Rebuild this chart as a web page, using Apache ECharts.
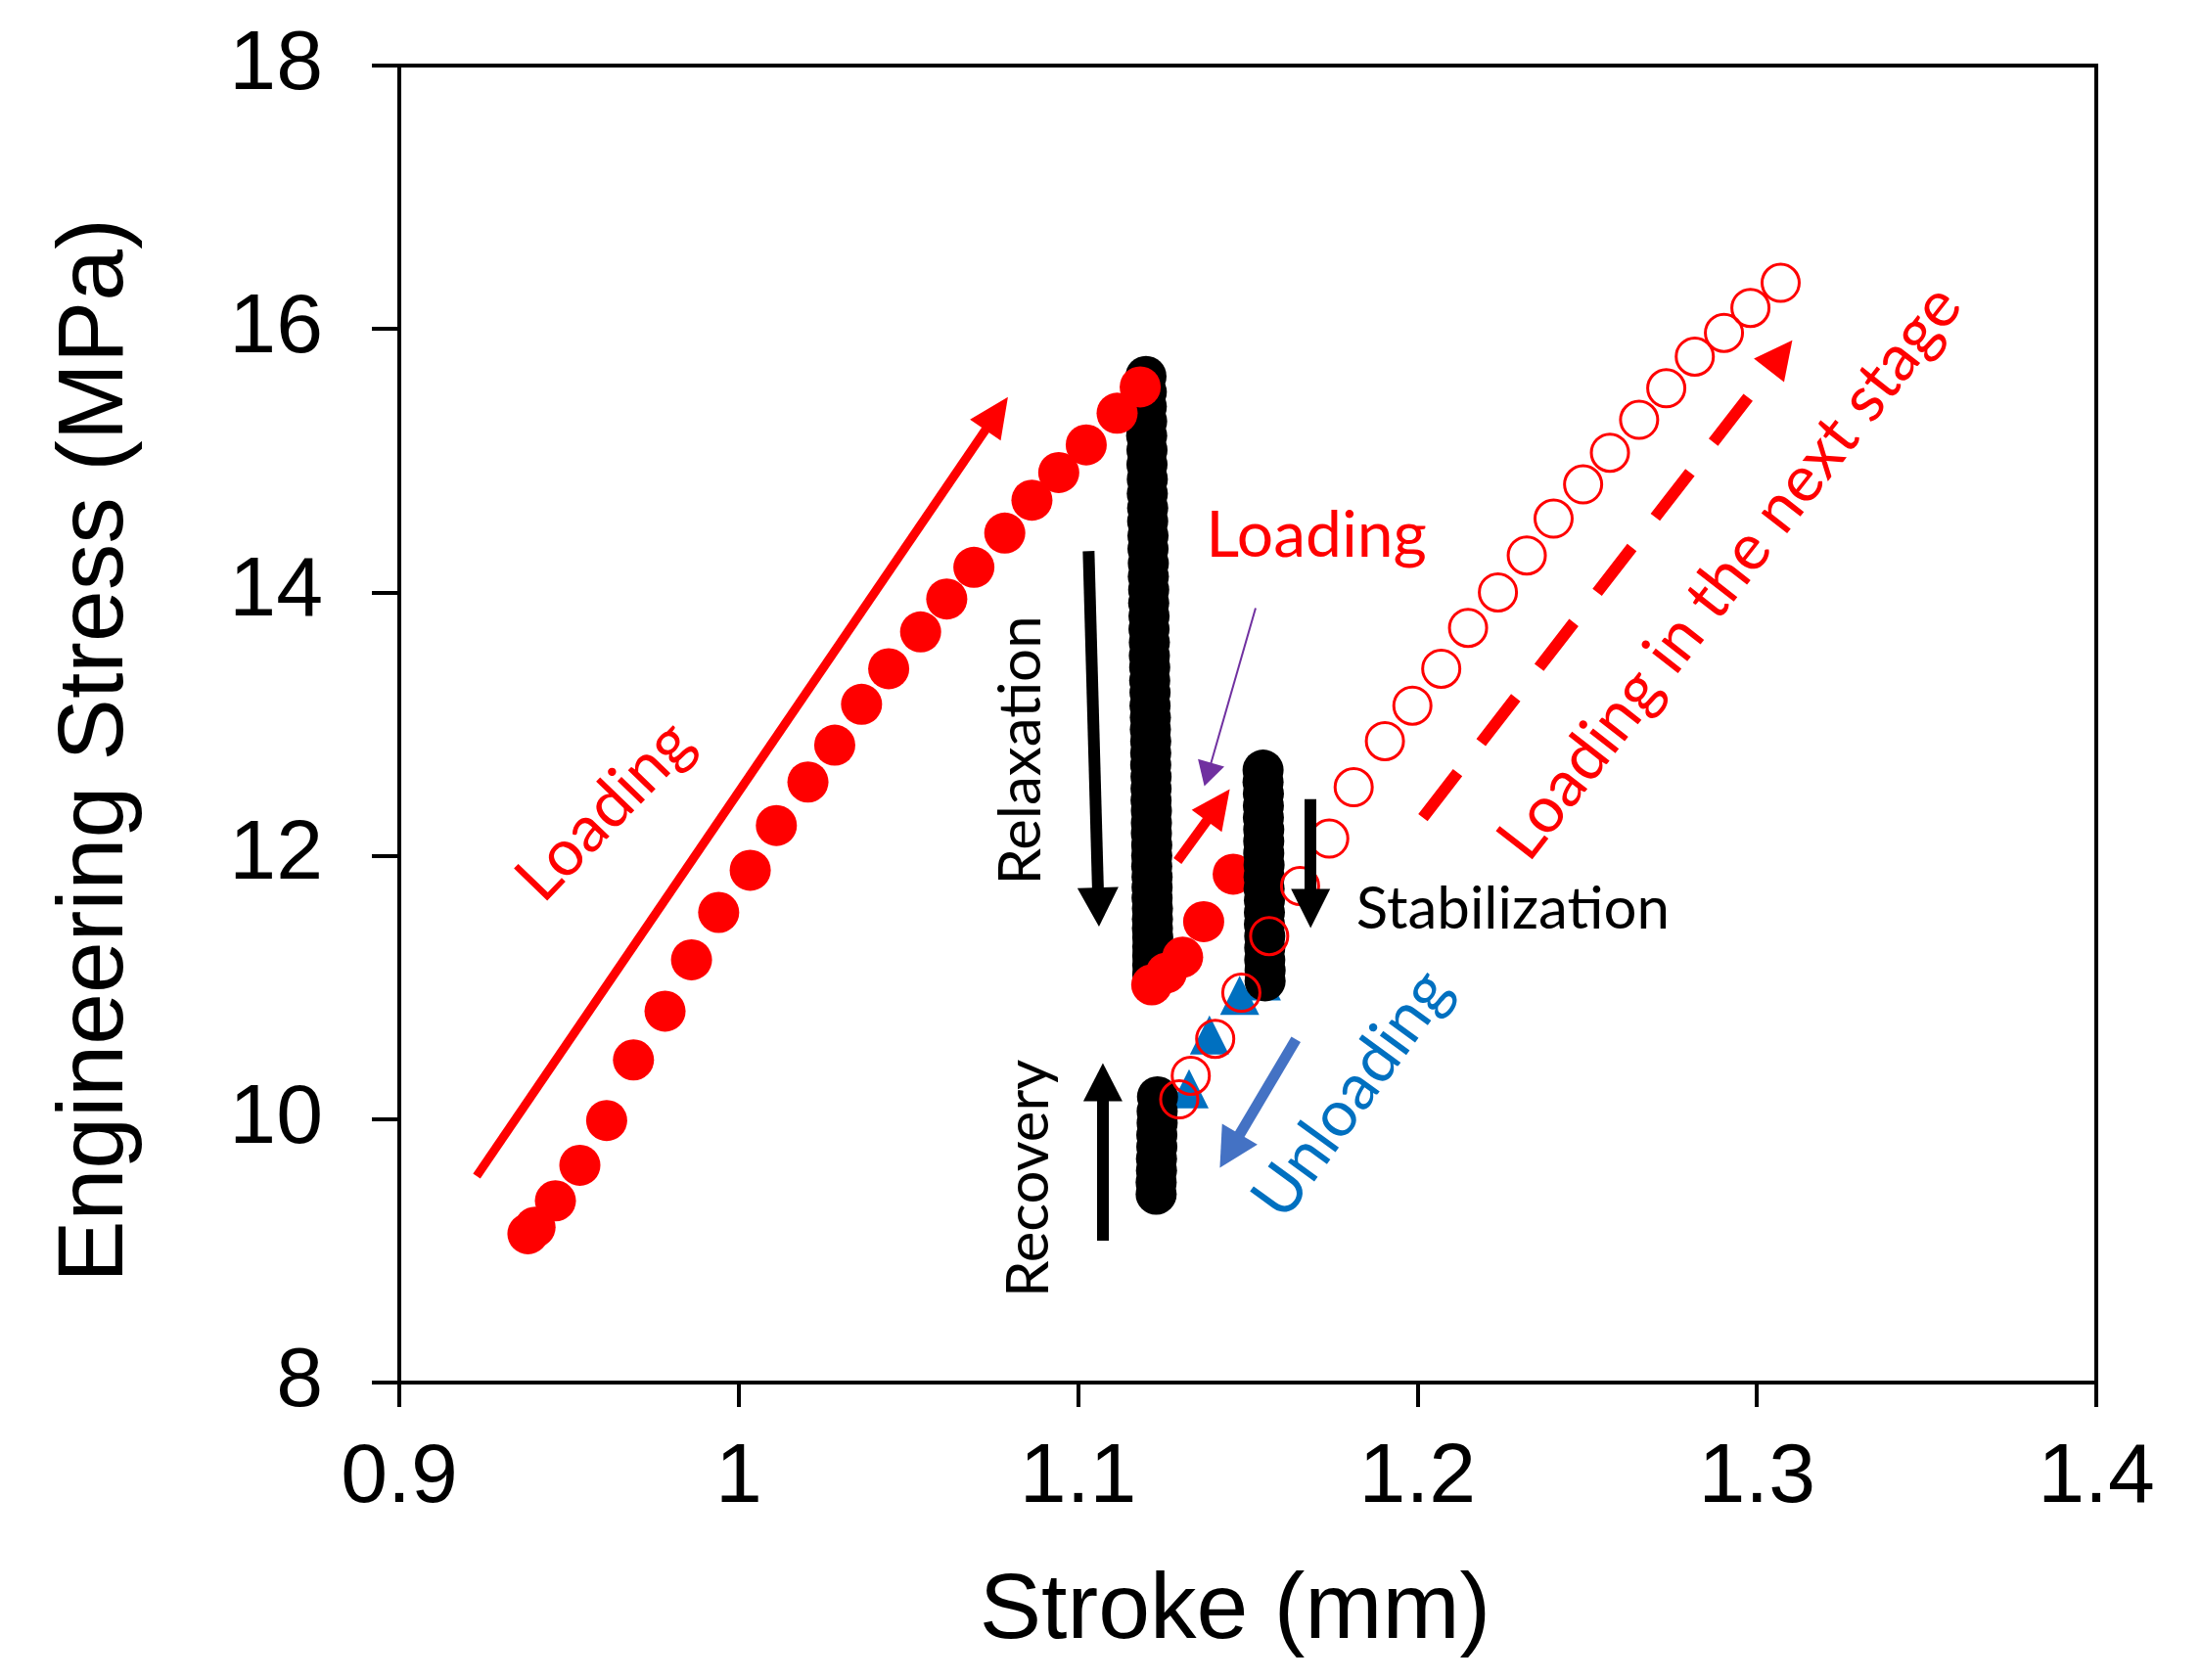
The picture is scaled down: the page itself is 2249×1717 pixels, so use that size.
<!DOCTYPE html>
<html lang="en">
<head>
    <meta charset="UTF-8">
    <title>stroke vs stress</title>
    <script src="https://cdn.jsdelivr.net/npm/echarts@6/dist/echarts.min.js"></script>
    <style>
        html, body { margin: 0; padding: 0; background: #fff; }
        #chart { width: 2249px; height: 1717px; }
    </style>
</head>
<body>
<div id="chart"></div>

<script type="text/javascript">
    // first loading (red filled)
    var strokeLoad = [0.9379, 0.9400, 0.9460, 0.9532, 0.9611, 0.9690, 0.9783, 0.9861, 0.9941, 1.0034, 1.0111, 1.0204, 1.0283,
        1.0362, 1.0442, 1.0536, 1.0613, 1.0693, 1.0784, 1.0864, 1.0943, 1.1024, 1.1115, 1.1183];
    var stressLoad = [9.13, 9.18, 9.38, 9.65, 9.99, 10.45, 10.82, 11.21, 11.57, 11.89, 12.23, 12.56, 12.84,
        13.15, 13.42, 13.70, 13.95, 14.19, 14.45, 14.70, 14.91, 15.12, 15.36, 15.56];

    // reloading after recovery (red filled)
    var strokeReload = [1.1217, 1.1260, 1.1308, 1.1370, 1.1457];
    var stressReload = [11.02, 11.11, 11.23, 11.50, 11.86];

    // relaxation (black)
    var strokeRelax = [1.1200, 1.1201, 1.1201, 1.1202, 1.1202, 1.1203, 1.1203, 1.1204, 1.1204, 1.1205,
        1.1205, 1.1206, 1.1206, 1.1207, 1.1207, 1.1208, 1.1208, 1.1209, 1.1209, 1.1210,
        1.1210, 1.1211, 1.1211, 1.1212, 1.1212, 1.1213, 1.1213, 1.1214, 1.1214, 1.1214,
        1.1215, 1.1215, 1.1215, 1.1216, 1.1216, 1.1216, 1.1217, 1.1217, 1.1217, 1.1218,
        1.1218, 1.1218, 1.1219, 1.1219, 1.1219, 1.1220, 1.1220, 1.1220, 1.1220, 1.1220];
    var stressRelax = [15.64, 15.52, 15.41, 15.30, 15.19, 15.08, 14.97, 14.86, 14.75, 14.64,
        14.54, 14.43, 14.33, 14.22, 14.12, 14.02, 13.92, 13.82, 13.72, 13.62,
        13.52, 13.43, 13.33, 13.24, 13.14, 13.05, 12.96, 12.87, 12.78, 12.69,
        12.60, 12.51, 12.42, 12.34, 12.25, 12.17, 12.08, 12.00, 11.92, 11.84,
        11.76, 11.68, 11.60, 11.52, 11.45, 11.38, 11.31, 11.24, 11.17, 11.10];

    // stabilization (black)
    var strokeStab = [1.1545, 1.1545, 1.1546, 1.1546, 1.1546, 1.1547, 1.1547, 1.1547, 1.1548, 1.1548,
        1.1548, 1.1549, 1.1549, 1.1549, 1.1550, 1.1550, 1.1550, 1.1551, 1.1551];
    var stressStab = [12.65, 12.56, 12.47, 12.38, 12.29, 12.20, 12.11, 12.02, 11.93, 11.84,
        11.75, 11.66, 11.57, 11.48, 11.39, 11.30, 11.21, 11.13, 11.05];

    // recovery (black)
    var strokeRecov = [1.1230, 1.1230, 1.1231, 1.1231, 1.1232, 1.1232, 1.1233, 1.1233, 1.1234];
    var stressRecov = [9.43, 9.52, 9.61, 9.70, 9.79, 9.88, 9.97, 10.06, 10.17];

    // unloading (blue triangles)
    var strokeUnload = [1.1327, 1.1387, 1.1476, 1.1540];
    var stressUnload = [10.23, 10.64, 10.94, 11.05];

    // loading in the next stage (red open)
    var strokeNext = [1.1298, 1.1332, 1.1404, 1.1481, 1.1563, 1.1654, 1.1740, 1.1812, 1.1904, 1.1985, 1.2070, 1.2149,
        1.2237, 1.2322, 1.2401, 1.2488, 1.2567, 1.2653, 1.2733, 1.2817, 1.2903, 1.2981, 1.3070];
    var stressNext = [10.15, 10.33, 10.61, 10.96, 11.39, 11.77, 12.13, 12.52, 12.87, 13.14, 13.42, 13.73,
        14.00, 14.28, 14.56, 14.82, 15.06, 15.31, 15.55, 15.79, 15.97, 16.16, 16.35];

    function zip(xs, ys) {
        return xs.map(function (x, i) { return [x, ys[i]]; });
    }

    var RED = '#FF0000', BLUE = '#0070C0', BLUE_ARROW = '#4472C4', PURPLE = '#7030A0';
    var AXIS_FONT = '"Liberation Sans", Arial, sans-serif';
    var NOTE_FONT = 'Lato, "Open Sans", sans-serif';

    // annotation arrows (tail, head centre) in data units
    var arrows = [
        {from: [0.9228, 9.567], to: [1.0760, 15.358], color: RED, width: 9, head: [38, 41]},
        {from: [1.1031, 14.313], to: [1.1060, 11.61], color: '#000', width: 12, head: [42, 40]},
        {from: [1.1073, 9.077], to: [1.1073, 10.28], color: '#000', width: 12, head: [40, 39]},
        {from: [1.1293, 11.96], to: [1.1413, 12.385], color: RED, width: 10, head: [38, 40]},
        {from: [1.1523, 13.881], to: [1.1382, 12.617], color: PURPLE, width: 2, head: [28, 25]},
        {from: [1.1685, 12.43], to: [1.1685, 11.60], color: '#000', width: 12, head: [40, 40]},
        {from: [1.1642, 10.606], to: [1.1447, 9.758], color: BLUE_ARROW, width: 11, head: [42, 40]},
        {from: [1.2016, 12.29], to: [1.3070, 15.80], color: RED, width: 12, head: [39, 39], dash: [58, 39]}
    ];

    var notes = [
        {text: 'Loading', at: [0.9606, 12.34], rot: 46, color: RED, size: 66},
        {text: 'Loading', at: [1.1702, 14.43], rot: 0, color: RED, size: 66},
        {text: 'Relaxation', at: [1.0833, 12.80], rot: 90, color: '#000', size: 60},
        {text: 'Recovery', at: [1.0855, 9.55], rot: 90, color: '#000', size: 60},
        {text: 'Stabilization', at: [1.2281, 11.594], rot: 0, color: '#000', size: 60},
        {text: 'Unloading', at: [1.1807, 10.19], rot: 54, color: BLUE, size: 66},
        {text: 'Loading in the next stage', at: [1.2921, 14.15], rot: 52, color: RED, size: 66}
    ];

    var markLines = arrows.map(function (a) {
        return [
            {coord: a.from, symbol: 'none'},
            {
                coord: a.to, symbol: 'triangle', symbolSize: a.head,
                lineStyle: {color: a.color, width: a.width, type: a.dash || 'solid', cap: 'butt', opacity: 1},
                itemStyle: {color: a.color, opacity: 1}
            }
        ];
    });

    var myChart = echarts.init(document.getElementById('chart'));

    var option = {
        animation: false,
        backgroundColor: '#fff',
        grid: {
            left: 408, right: 107, top: 67, bottom: 304,
            show: true, borderColor: '#000', borderWidth: 4,
            outerBoundsMode: 'none'
        },
        xAxis: {
            type: 'value', min: 0.9, max: 1.4, interval: 0.1,
            name: 'Stroke (mm)', nameLocation: 'middle', nameGap: 187,
            nameTextStyle: {fontFamily: AXIS_FONT, fontSize: 95, color: '#000', padding: [0, 26, 0, 0]},
            axisLine: {lineStyle: {color: '#000', width: 4}},
            axisTick: {length: 25, lineStyle: {color: '#000', width: 4}},
            axisLabel: {fontFamily: AXIS_FONT, fontSize: 86, color: '#000', margin: 55},
            splitLine: {show: false}
        },
        yAxis: {
            type: 'value', min: 8, max: 18, interval: 2,
            name: 'Engineering Stress (MPa)', nameLocation: 'middle', nameGap: 262,
            nameTextStyle: {fontFamily: AXIS_FONT, fontSize: 95, color: '#000', padding: [0, 54, 0, 0]},
            axisLine: {lineStyle: {color: '#000', width: 4}},
            axisTick: {length: 28, lineStyle: {color: '#000', width: 4}},
            axisLabel: {fontFamily: AXIS_FONT, fontSize: 86, color: '#000', margin: 78},
            splitLine: {show: false}
        },
        series: [
            {
                name: 'unloading', type: 'scatter', symbol: 'triangle', symbolSize: 40,
                itemStyle: {color: BLUE, opacity: 1}, data: zip(strokeUnload, stressUnload)
            },
            {
                name: 'relaxation', type: 'scatter', symbolSize: 42,
                itemStyle: {color: '#000', opacity: 1}, data: zip(strokeRelax, stressRelax)
            },
            {
                name: 'loading', type: 'scatter', symbolSize: 42,
                itemStyle: {color: RED, opacity: 1},
                data: zip(strokeLoad, stressLoad).concat(zip(strokeReload, stressReload))
            },
            {
                name: 'stabilization', type: 'scatter', symbolSize: 42,
                itemStyle: {color: '#000', opacity: 1},
                data: zip(strokeStab, stressStab).concat(zip(strokeRecov, stressRecov))
            },
            {
                name: 'next stage', type: 'scatter', symbolSize: 38,
                itemStyle: {color: 'rgba(0,0,0,0)', borderColor: RED, borderWidth: 3, opacity: 1},
                data: zip(strokeNext, stressNext)
            },
            {
                name: 'arrows', type: 'scatter', data: [],
                markLine: {
                    silent: true, animation: false,
                    label: {show: false},
                    emphasis: {disabled: true},
                    data: markLines
                }
            }
        ]
    };

    myChart.setOption(option);

    // annotation texts, anchored in data units
    var texts = notes.map(function (n) {
        var p = myChart.convertToPixel({gridIndex: 0}, n.at);
        return {
            type: 'text', x: p[0], y: p[1], rotation: n.rot * Math.PI / 180, z: 100,
            style: {
                text: n.text, fill: n.color, fontFamily: NOTE_FONT, fontSize: n.size,
                align: 'center', verticalAlign: 'middle'
            }
        };
    });
    myChart.setOption({graphic: texts});
</script>
</body>
</html>
